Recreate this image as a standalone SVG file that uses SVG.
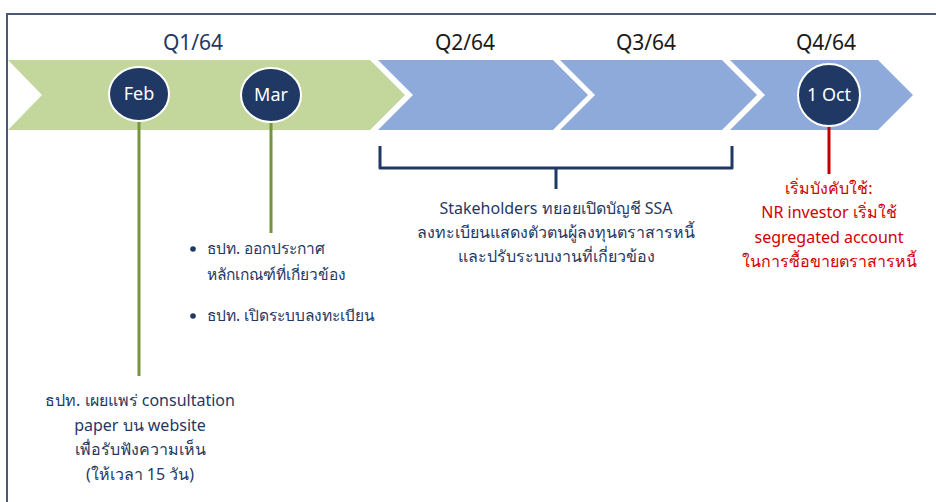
<svg xmlns="http://www.w3.org/2000/svg" width="936" height="502" viewBox="0 0 936 502">
<style>
text{font-family:"Noto Sans","Liberation Sans",sans-serif;}
.q{font-size:21px;fill:#1a1a1a;text-anchor:middle;}
.m{font-size:18px;fill:#ffffff;text-anchor:middle;}
.t{font-size:16px;fill:#1f3864;}
.b{font-size:15.5px;}
.c{text-anchor:middle;}
.r{font-size:16px;fill:#d00000;text-anchor:middle;}
.dot{fill:#1f3864;stroke:#ffffff;stroke-width:2;}
</style>
<rect width="936" height="502" fill="#ffffff"/>
<g id="frame">
<path d="M7,502 V14 H936" fill="none" stroke="#4a5a74" stroke-width="2"/>
</g>
<g id="chevrons">
<polygon id="q1" points="8,60 370,60 405,95 370,130 8,130 42,95" fill="#c3d69b"/>
<polygon id="q2" points="378,60 553,60 588,95 553,130 378,130 413,95" fill="#8eaadb"/>
<polygon id="q3" points="560,60 722,60 757,95 722,130 560,130 595,95" fill="#8eaadb"/>
<polygon id="q4" points="730,60 878,60 913,95 878,130 730,130 765,95" fill="#8eaadb"/>
</g>
<g id="labels">
<text class="q" x="193" y="50" style="fill:#1f3864">Q1/64</text>
<text class="q" x="465" y="50">Q2/64</text>
<text class="q" x="646" y="50">Q3/64</text>
<text class="q" x="826" y="50">Q4/64</text>
</g>
<g id="connectors">
<line x1="139" y1="120" x2="139" y2="376" stroke="#77933c" stroke-width="3"/>
<line x1="271" y1="120" x2="271" y2="233" stroke="#77933c" stroke-width="3"/>
<line x1="829" y1="125" x2="829" y2="174" stroke="#c00000" stroke-width="3"/>
<path d="M380,146 V168 H556 V189 M556,168 H732 V146" fill="none" stroke="#1f3864" stroke-width="3" stroke-linejoin="round"/>
</g>
<g id="feb"><ellipse class="dot" cx="139" cy="94" rx="30" ry="27"/><text class="m" x="139" y="100">Feb</text></g>
<g id="mar"><ellipse class="dot" cx="271" cy="95" rx="30" ry="27"/><text class="m" x="271" y="101">Mar</text></g>
<g id="oct"><circle class="dot" cx="829" cy="95" r="31"/><text class="m" x="829" y="101">1 Oct</text></g>
<g id="ssa">
<text class="t c" x="556" y="214">Stakeholders ทยอยเปิดบัญชี SSA</text>
<text class="t c" x="556" y="238">ลงทะเบียนแสดงตัวตนผู้ลงทุนตราสารหนี้</text>
<text class="t c" x="556" y="262">และปรับระบบงานที่เกี่ยวข้อง</text>
</g>
<g id="enforce">
<text class="r" x="829" y="194">เริ่มบังคับใช้:</text>
<text class="r" x="829" y="218">NR investor เริ่มใช้</text>
<text class="r" x="829" y="243">segregated account</text>
<text class="r" x="829" y="267">ในการซื้อขายตราสารหนี้</text>
</g>
<g id="mar-notes">
<circle cx="193" cy="249" r="2.8" fill="#1f3864"/>
<text class="t b" x="207" y="254">ธปท. ออกประกาศ</text>
<text class="t b" x="207" y="280">หลักเกณฑ์ที่เกี่ยวข้อง</text>
<circle cx="193" cy="316" r="2.8" fill="#1f3864"/>
<text class="t b" x="207" y="321">ธปท. เปิดระบบลงทะเบียน</text>
</g>
<g id="feb-notes">
<text class="t c" x="140" y="406">ธปท. เผยแพร่ consultation</text>
<text class="t c" x="140" y="431">paper บน website</text>
<text class="t c" x="140" y="455">เพื่อรับฟังความเห็น</text>
<text class="t c" x="140" y="480">(ให้เวลา 15 วัน)</text>
</g>
</svg>
